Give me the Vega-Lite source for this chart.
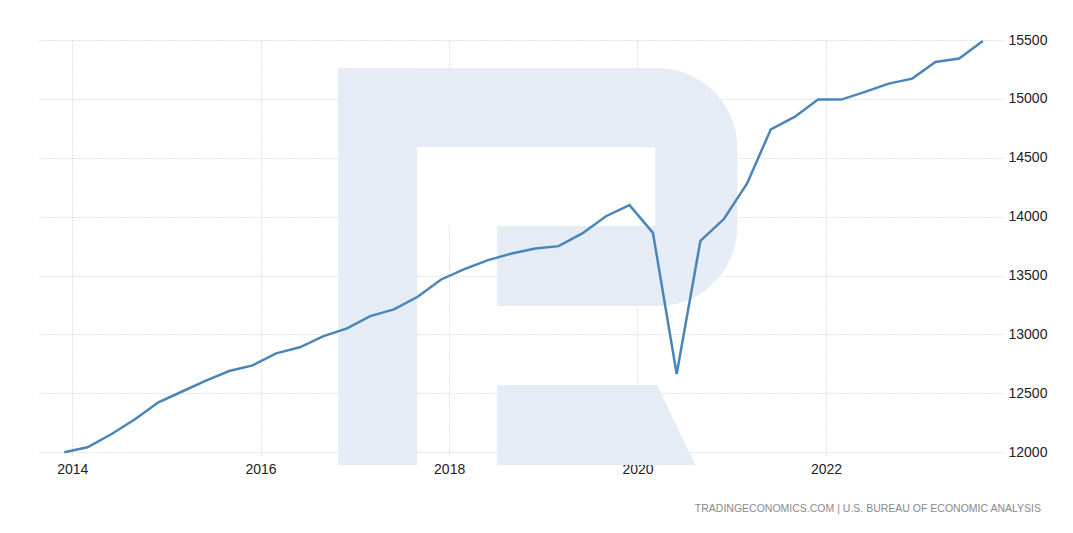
{
  "$schema": "https://vega.github.io/schema/vega-lite/v6.json",
  "width": 964,
  "height": 417,
  "autosize": {"type": "none"},
  "padding": {"left": 39, "top": 40, "right": 70, "bottom": 76},
  "background": "white",
  "config": {
    "view": {"stroke": null},
    "axis": {
      "grid": true,
      "gridColor": "#c8c8c8",
      "gridDash": [1, 2],
      "gridWidth": 1,
      "ticks": false,
      "domain": false,
      "labelFont": "Liberation Sans",
      "labelFontSize": 14,
      "labelColor": "#222222",
      "labelPadding": 5,
      "zindex": 1,
      "title": null
    }
  },
  "title": {
    "text": "TRADINGECONOMICS.COM  |  U.S.  BUREAU  OF  ECONOMIC  ANALYSIS",
    "orient": "bottom",
    "anchor": "end",
    "frame": "group",
    "dx": 38,
    "offset": 28,
    "font": "Liberation Sans",
    "fontSize": 10.5,
    "fontWeight": "normal",
    "color": "#8a8a8a"
  },
  "encoding": {},
  "layer": [
    {
      "data": {"values": [
        {"x": "2016-10-28", "x2": "2017-08-30", "y": 15260, "y2": 11892},
        {"x": "2016-10-28", "x2": "2018-07-10", "y": 15260, "y2": 14590}
      ]},
      "mark": {"type": "rect", "color": "#e5ecf5"},
      "encoding": {
        "x": {"field": "x", "type": "temporal", "scale": {"domain": ["2013-08-25", "2023-11-18"]}, "axis": {"values": [{"year": 2014}, {"year": 2016}, {"year": 2018}, {"year": 2020}, {"year": 2022}], "format": "%Y"}},
        "x2": {"field": "x2"},
        "y": {"field": "y", "type": "quantitative", "scale": {"domain": [11960, 15500], "zero": false, "nice": false}, "axis": {"orient": "right", "values": [12000, 12500, 13000, 13500, 14000, 14500, 15000, 15500], "format": "d"}},
        "y2": {"field": "y2"}
      }
    },
    {
      "data": {"values": [
        {"x": "2018-07-06", "x2": "2021-01-22", "y": 15260, "y2": 13241}
      ]},
      "mark": {"type": "rect", "color": "#e5ecf5", "cornerRadiusTopRight": 80, "cornerRadiusBottomRight": 80},
      "encoding": {
        "x": {"field": "x", "type": "temporal", "scale": {"domain": ["2013-08-25", "2023-11-18"]}},
        "x2": {"field": "x2"},
        "y": {"field": "y", "type": "quantitative", "scale": {"domain": [11960, 15500], "zero": false, "nice": false}},
        "y2": {"field": "y2"}
      }
    },
    {
      "data": {"values": [
        {"x": "2017-08-30", "x2": "2020-03-10", "y": 14590, "y2": 13920}
      ]},
      "mark": {"type": "rect", "color": "white"},
      "encoding": {
        "x": {"field": "x", "type": "temporal", "scale": {"domain": ["2013-08-25", "2023-11-18"]}},
        "x2": {"field": "x2"},
        "y": {"field": "y", "type": "quantitative", "scale": {"domain": [11960, 15500], "zero": false, "nice": false}},
        "y2": {"field": "y2"}
      }
    },
    {
      "data": {"values": [
        {"x": "2018-07-06", "top": 12571, "bottom": 11892},
        {"x": "2020-03-17", "top": 12571, "bottom": 11892},
        {"x": "2020-08-12", "top": 11892, "bottom": 11892}
      ]},
      "mark": {"type": "area", "color": "#e5ecf5", "interpolate": "linear"},
      "encoding": {
        "x": {"field": "x", "type": "temporal", "scale": {"domain": ["2013-08-25", "2023-11-18"]}},
        "y": {"field": "top", "type": "quantitative", "scale": {"domain": [11960, 15500], "zero": false, "nice": false}},
        "y2": {"field": "bottom"}
      }
    },
    {
      "data": {"values": [
        {"date": "2013-12-01", "value": 12000},
        {"date": "2014-03-01", "value": 12042},
        {"date": "2014-06-01", "value": 12153},
        {"date": "2014-09-01", "value": 12280},
        {"date": "2014-12-01", "value": 12424},
        {"date": "2015-03-01", "value": 12514},
        {"date": "2015-06-01", "value": 12607},
        {"date": "2015-09-01", "value": 12690},
        {"date": "2015-12-01", "value": 12738},
        {"date": "2016-03-01", "value": 12840},
        {"date": "2016-06-01", "value": 12891},
        {"date": "2016-09-01", "value": 12986},
        {"date": "2016-12-01", "value": 13052},
        {"date": "2017-03-01", "value": 13156},
        {"date": "2017-06-01", "value": 13213},
        {"date": "2017-09-01", "value": 13320},
        {"date": "2017-12-01", "value": 13467},
        {"date": "2018-03-01", "value": 13555},
        {"date": "2018-06-01", "value": 13631},
        {"date": "2018-09-01", "value": 13688},
        {"date": "2018-12-01", "value": 13730},
        {"date": "2019-03-01", "value": 13750},
        {"date": "2019-06-01", "value": 13858},
        {"date": "2019-09-01", "value": 14004},
        {"date": "2019-12-01", "value": 14098},
        {"date": "2020-03-01", "value": 13863},
        {"date": "2020-06-01", "value": 12664},
        {"date": "2020-09-01", "value": 13795},
        {"date": "2020-12-01", "value": 13980},
        {"date": "2021-03-01", "value": 14282},
        {"date": "2021-06-01", "value": 14742},
        {"date": "2021-09-01", "value": 14847},
        {"date": "2021-12-01", "value": 14994},
        {"date": "2022-03-01", "value": 14994},
        {"date": "2022-06-01", "value": 15060},
        {"date": "2022-09-01", "value": 15130},
        {"date": "2022-12-01", "value": 15172},
        {"date": "2023-03-01", "value": 15313},
        {"date": "2023-06-01", "value": 15342},
        {"date": "2023-09-01", "value": 15491}
      ]},
      "mark": {"type": "line", "color": "#4a85ba", "strokeWidth": 2.5, "strokeJoin": "miter"},
      "encoding": {
        "x": {"field": "date", "type": "temporal", "scale": {"domain": ["2013-08-25", "2023-11-18"]}},
        "y": {"field": "value", "type": "quantitative", "scale": {"domain": [11960, 15500], "zero": false, "nice": false}}
      }
    }
  ]
}
